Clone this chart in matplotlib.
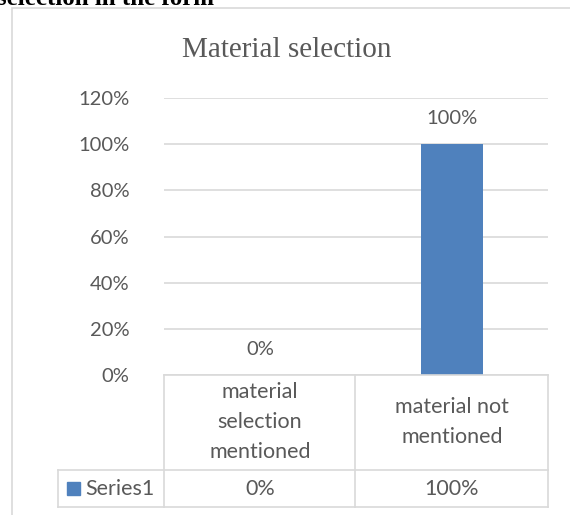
import matplotlib
matplotlib.use("Agg")
import matplotlib.pyplot as plt
from matplotlib.lines import Line2D
from matplotlib.patches import Rectangle
from matplotlib.transforms import blended_transform_factory

categories = ["material\nselection\nmentioned", "material not\nmentioned"]
values = [0, 100]
series_name = "Series1"
yticks = [0, 20, 40, 60, 80, 100, 120]
title = "Material selection"
heading = "selection in the form"

W, H = 570, 515
fig = plt.figure(figsize=(W / 100, H / 100), dpi=100)
GRID = "#D9D9D9"
TXT = "#595959"
BLUE = "#4F81BD"
SANS = ["Lato", "DejaVu Sans"]

def fx(px):
    return px / W

def fy(py):
    return 1 - py / H

# outer chart frame (extends beyond the image)
fig.add_artist(Rectangle((fx(12), fy(530)), fx(600), fy(8) - fy(530),
                         transform=fig.transFigure, fill=False, edgecolor=GRID, lw=1.2))

# heading text cut at top
fig.text(fx(-3), fy(5), heading, fontsize=18, fontweight="bold",
         family="Liberation Serif", color="black", va="baseline", ha="left")

left, right, top, bottom = 164, 548, 98, 375
ax = fig.add_axes([fx(left), fy(bottom), fx(right - left), fy(top) - fy(bottom)])
x = list(range(len(categories)))
ax.bar(x, values, width=0.32, color=BLUE, zorder=3)
ax.set_xlim(-0.5, len(categories) - 0.5)
ax.set_ylim(0, 120)
ax.set_yticks(yticks)
ax.set_yticklabels([f"{v}%" for v in yticks], family=SANS, fontsize=14.5, color=TXT)
ax.tick_params(axis="y", length=0, pad=25)
ax.set_xticks([])
ax.grid(axis="y", color=GRID, lw=1.2, zorder=0)
for s in ax.spines.values():
    s.set_visible(False)
for xi, v in zip(x, values):
    ax.annotate(f"{v}%", (xi, v), xytext=(0, 12), textcoords="offset points",
                ha="center", va="bottom", family=SANS, fontsize=14.5, color=TXT)

fig.text(fx(287), fy(50), title, family="Liberation Serif", fontsize=21,
         color=TXT, ha="center", va="center")

# data table
row1_bot, row2_bot = 470, 507
col_edges = [left, 355, right]
lw = 1.2
def hline(x0, x1, y):
    fig.add_artist(Line2D([fx(x0), fx(x1)], [fy(y), fy(y)], transform=fig.transFigure, color=GRID, lw=lw))
def vline(xp, y0, y1):
    fig.add_artist(Line2D([fx(xp), fx(xp)], [fy(y0), fy(y1)], transform=fig.transFigure, color=GRID, lw=lw))

hline(left, right, bottom)
hline(58, right, row1_bot)
hline(58, right, row2_bot)
for c in col_edges:
    vline(c, bottom, row2_bot)
vline(58, row1_bot, row2_bot)

tr = blended_transform_factory(ax.transData, fig.transFigure)
for xi, cat, v in zip(x, categories, values):
    fig.text(xi, fy(422), cat, transform=tr, ha="center", va="center",
             family=SANS, fontsize=15.5, color=TXT, linespacing=1.6)
    fig.text(xi, fy(489), f"{v}%", transform=tr, ha="center", va="center",
             family=SANS, fontsize=15.5, color=TXT)

fig.add_artist(Rectangle((fx(67), fy(495)), fx(13), fy(482) - fy(495),
                         transform=fig.transFigure, color=BLUE))
fig.text(fx(85), fy(489), series_name, ha="left", va="center", family=SANS, fontsize=15.5, color=TXT)

fig.savefig("out.png", dpi=100)
